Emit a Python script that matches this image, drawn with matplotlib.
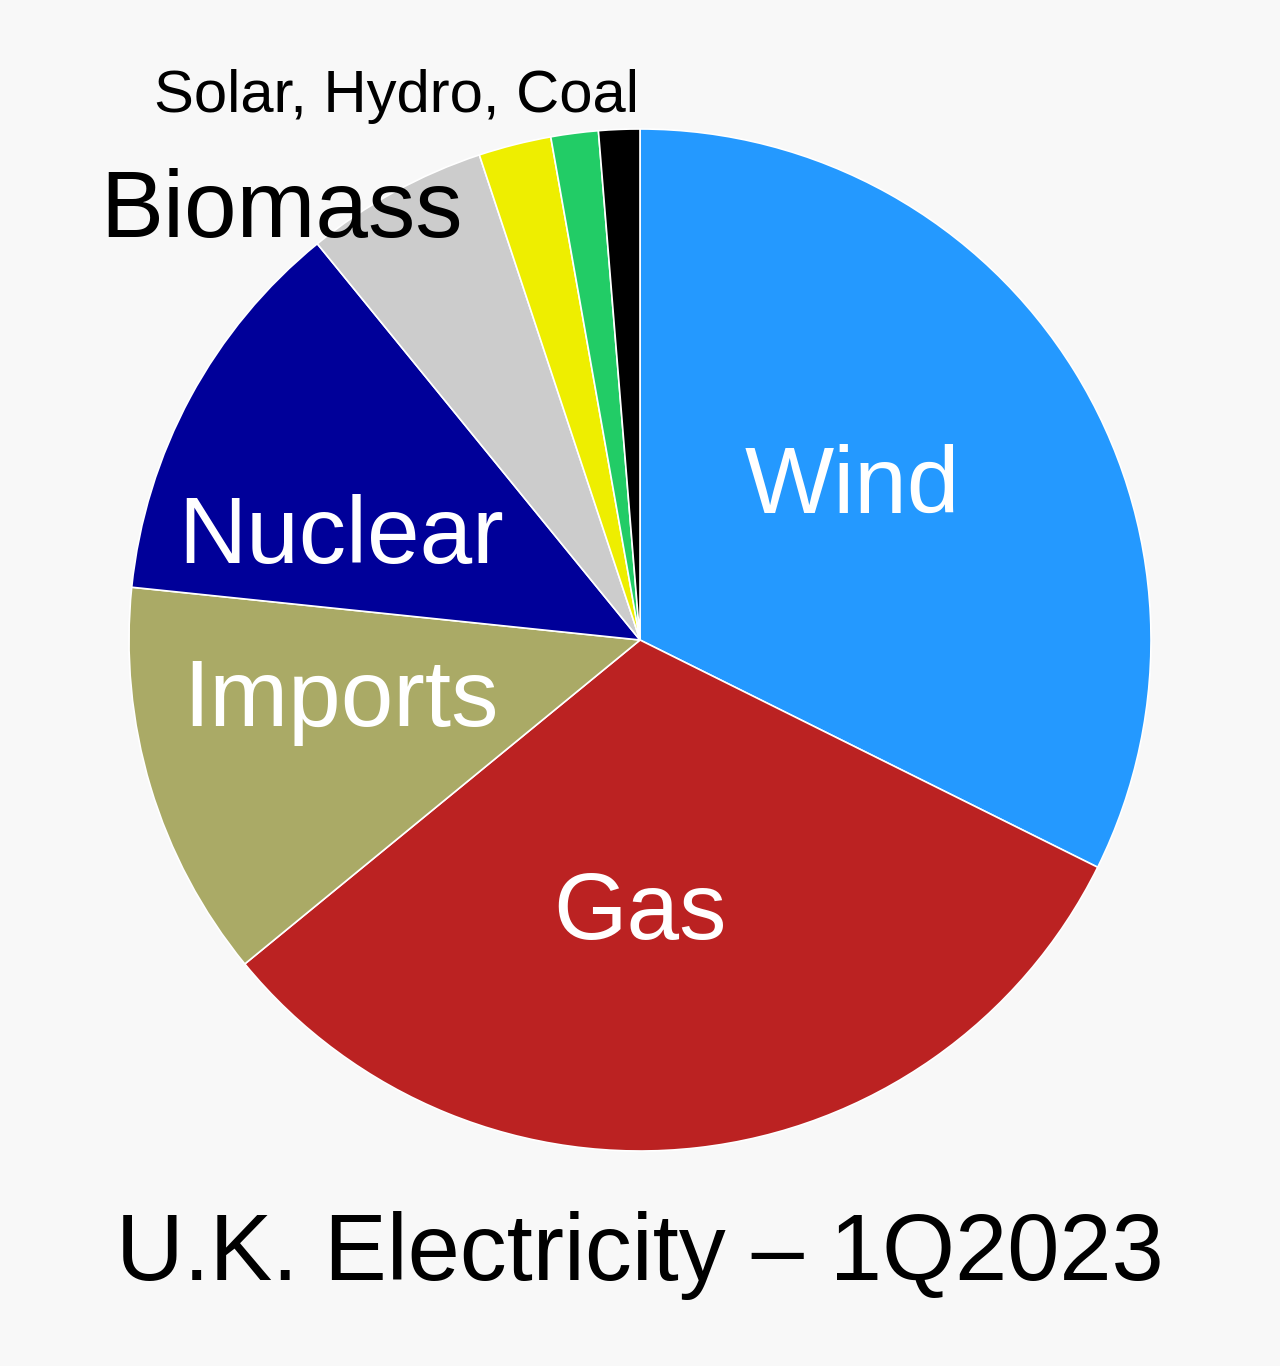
import matplotlib
matplotlib.use("Agg")
import matplotlib.pyplot as plt

plt.rcParams['font.family'] = ['Liberation Sans', 'DejaVu Sans']

# UK electricity generation share, 1Q2023 (%)
sources = ['Wind', 'Gas', 'Imports', 'Nuclear', 'Biomass', 'Solar', 'Hydro', 'Coal']
shares = [32.4, 31.8, 12.6, 12.5, 5.8, 2.3, 1.5, 1.3]
colors = ['#2499ff', '#bb2222', '#aaaa66', '#000099', '#cccccc', '#eeee00', '#22cc66', '#000000']

W, H = 1280, 1366
fig = plt.figure(figsize=(W / 100, H / 100), dpi=100, facecolor='#f8f8f8')
ax = fig.add_axes([0, 0, 1, 1])
ax.set_facecolor('#f8f8f8')

ax.pie(shares, colors=colors, startangle=90, counterclock=False,
       center=(640, H - 640), radius=511,
       wedgeprops=dict(edgecolor='white', linewidth=1.2))

# pie() resets the limits, so set them afterwards
ax.set_xlim(0, W)
ax.set_ylim(0, H)
ax.set_aspect('equal')
ax.axis('off')

# labels, positions given in image pixels (y from top)
def label(x, y, s, size, color):
    ax.text(x, H - y, s, fontsize=size, color=color, ha='center', va='center')

label(852, 488, 'Wind', 68, 'white')
label(640, 914, 'Gas', 68, 'white')
label(341, 702, 'Imports', 68, 'white')
label(341, 539, 'Nuclear', 68, 'white')
label(281, 213, 'Biomass', 68, 'black')
label(397, 97, 'Solar, Hydro, Coal', 43, 'black')
label(640, 1256, 'U.K. Electricity \u2013 1Q2023', 67.5, 'black')

fig.savefig('out.png', dpi=100, facecolor='#f8f8f8')
